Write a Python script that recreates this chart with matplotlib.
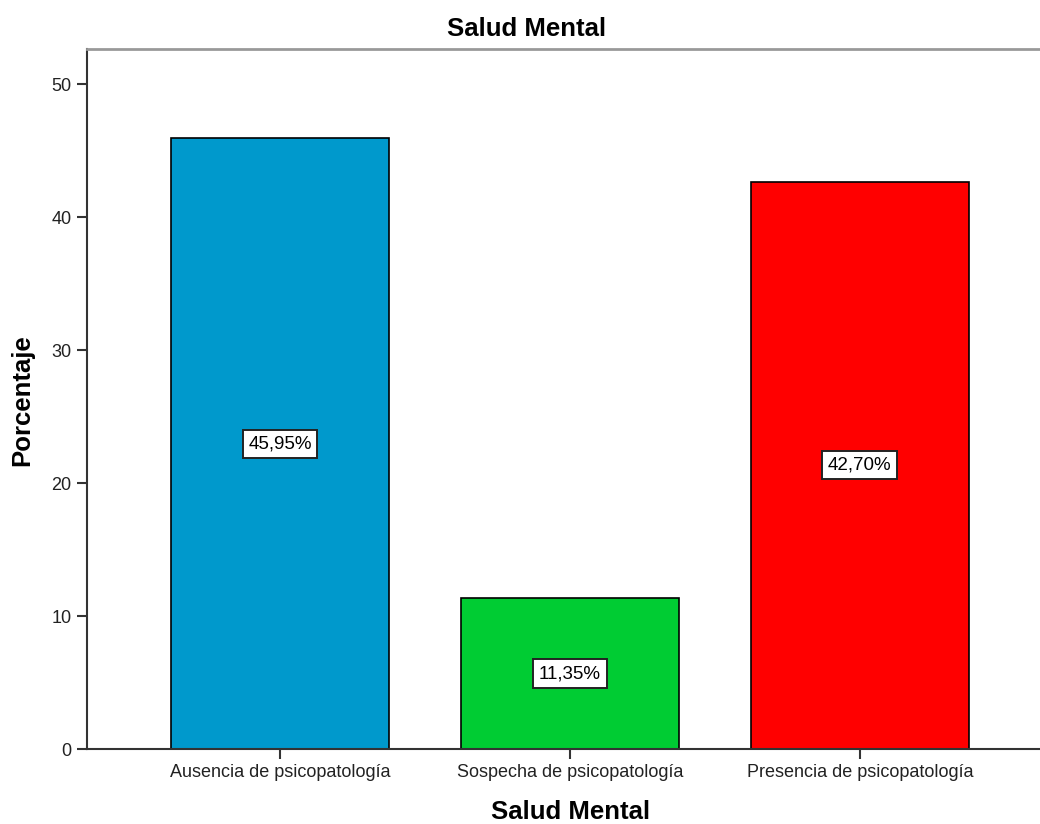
import matplotlib
matplotlib.use('Agg')
import matplotlib.pyplot as plt

categories = ['Ausencia de psicopatología', 'Sospecha de psicopatología', 'Presencia de psicopatología']
percentages = [45.95, 11.35, 42.70]
bar_labels = ['45,95%', '11,35%', '42,70%']
colors = ['#0099CC', '#00CC33', '#FF0000']
yticks = [0, 10, 20, 30, 40, 50]

plt.rcParams['font.family'] = ['Liberation Sans', 'DejaVu Sans']

fig = plt.figure(figsize=(10.4, 8.24), dpi=100)
ax = fig.add_axes([86.7 / 1040, 75 / 824, 966.6 / 1040, 700 / 824])

x = range(len(categories))
ax.bar(x, percentages, width=0.75, color=colors, edgecolor='black', linewidth=1.2, zorder=2)

for i, (val, lab) in enumerate(zip(percentages, bar_labels)):
    ax.text(i, val / 2, lab, ha='center', va='center', fontsize=13.5, zorder=3,
            bbox=dict(boxstyle='square,pad=0.3', facecolor='white', edgecolor='#222222', linewidth=1.4))

ax.set_xlim(-0.667, 2.667)
ax.set_ylim(0, 52.67)
ax.set_xticks(list(x))
ax.set_xticklabels(categories, fontsize=13, color='#222222')
ax.set_yticks(yticks)
ax.set_yticklabels([str(t) for t in yticks], fontsize=13, color='#222222')
ax.tick_params(axis='both', direction='out', length=7, width=1.5, color='#333333', pad=4)

ax.spines['right'].set_visible(False)
ax.spines['top'].set_color('#999999')
ax.spines['top'].set_linewidth(2)
ax.spines['left'].set_color('#333333')
ax.spines['left'].set_linewidth(1.5)
ax.spines['bottom'].set_color('#333333')
ax.spines['bottom'].set_linewidth(1.5)

fig.text(527 / 1040, 1 - 29 / 824, 'Salud Mental', ha='center', va='center', fontsize=18.5, fontweight='bold')
fig.text(571 / 1040, 1 - 812 / 824, 'Salud Mental', ha='center', va='center', fontsize=18.5, fontweight='bold')
fig.text(22 / 1040, 1 - 400 / 824, 'Porcentaje', ha='center', va='center', rotation=90, fontsize=18.5, fontweight='bold')

fig.savefig('out.png', dpi=100)
